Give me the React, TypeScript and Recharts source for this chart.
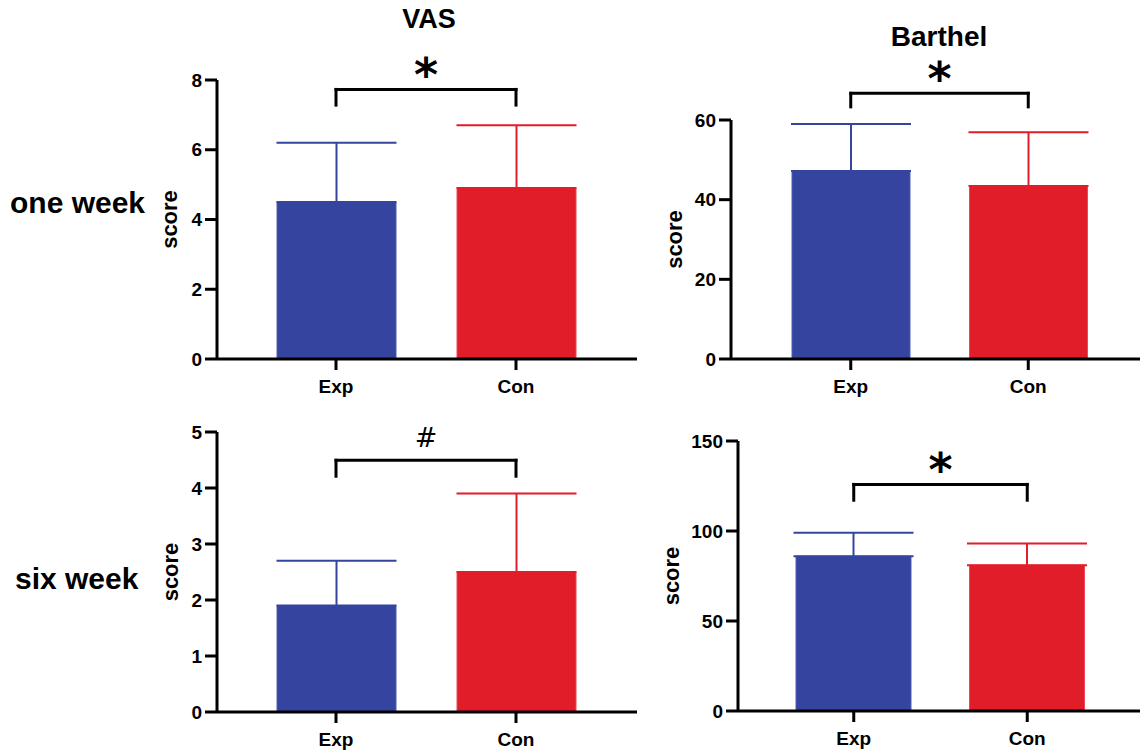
import React from 'react';
import { BarChart, Bar, XAxis, YAxis, Cell, ErrorBar, ReferenceLine } from 'recharts';

// ---------- data ----------
const categories = ['Exp', 'Con'];

const vasWeek1Mean = [4.5, 4.9];
const vasWeek1Sd = [1.7, 1.8];
const vasWeek1Ticks = [0, 2, 4, 6, 8];

const barthelWeek1Mean = [47.2, 43.4];
const barthelWeek1Sd = [11.8, 13.5];
const barthelWeek1Ticks = [0, 20, 40, 60];

const vasWeek6Mean = [1.9, 2.5];
const vasWeek6Sd = [0.8, 1.4];
const vasWeek6Ticks = [0, 1, 2, 3, 4, 5];

const barthelWeek6Mean = [86, 81];
const barthelWeek6Sd = [13, 12];
const barthelWeek6Ticks = [0, 50, 100, 150];

const columnTitles = ['VAS', 'Barthel'];
const rowTitles = ['one week', 'six week'];
const yAxisTitle = 'score';

// ---------- styles ----------
const barColors = ['#35449F', '#E11D2A'];
const barEdges = ['#4e5cb3', '#ea4b55'];
const FONT = "'Liberation Sans', Arial, sans-serif";
const axisStyle = { stroke: '#000', strokeWidth: 3 };
const tickStyle = { fill: '#000', fontSize: 19, fontWeight: 'bold', fontFamily: FONT };

function buildRows(means: number[], sds: number[]) {
  return categories.map((name, i) => {
    const row: any = { name, value: means[i] };
    row['err' + i] = [0, sds[i]];
    return row;
  });
}

function SigLabel(props: any) {
  const { viewBox, text, dy, fontSize, fontFamily, fontWeight } = props;
  if (!viewBox) return null;
  const cx = viewBox.x + viewBox.width / 2;
  return (
    <text x={cx} y={viewBox.y + dy} textAnchor="middle" fill="#000" fontSize={fontSize} fontFamily={fontFamily} fontWeight={fontWeight}>
      {text}
    </text>
  );
}

type PanelCfg = {
  left: number; top: number; width: number; height: number;
  mt: number; mr: number; mb: number; yw: number;
  padL: number; padR: number; barSize: number;
  max: number; ticks: number[];
  means: number[]; sds: number[];
  bracket: [number, number];
  sig: string; sigDy: number; sigSize: number; sigFont: string; sigWeight: string;
};

function Panel({ cfg }: { cfg: PanelCfg }) {
  const rows = buildRows(cfg.means, cfg.sds);
  const [top, leg] = cfg.bracket;
  const segProps = { stroke: '#000', strokeWidth: 3, ifOverflow: 'visible' as const, strokeLinecap: 'square' as const };
  return (
    <div style={{ position: 'absolute', left: cfg.left, top: cfg.top }}>
      <BarChart
        width={cfg.width}
        height={cfg.height}
        data={rows}
        margin={{ top: cfg.mt, right: cfg.mr, bottom: cfg.mb, left: 0 }}
      >
        <XAxis
          dataKey="name"
          type="category"
          height={40}
          interval={0}
          padding={{ left: cfg.padL, right: cfg.padR }}
          axisLine={axisStyle}
          tickLine={axisStyle}
          tickSize={11}
          tickMargin={10}
          tick={tickStyle}
        />
        <YAxis
          width={cfg.yw}
          type="number"
          domain={[0, cfg.max]}
          ticks={cfg.ticks}
          interval={0}
          allowDataOverflow
          axisLine={axisStyle}
          tickLine={axisStyle}
          tickSize={12}
          tickMargin={3}
          tick={tickStyle}
          label={{
            value: yAxisTitle,
            angle: -90,
            position: 'center',
            fill: '#000',
            fontSize: 22,
            fontWeight: 'bold',
            fontFamily: FONT,
          }}
        />
        <Bar dataKey="value" barSize={cfg.barSize} isAnimationActive={false}>
          {rows.map((r, i) => (
            <Cell key={r.name} fill={barColors[i]} stroke={barEdges[i]} strokeWidth={1} />
          ))}
          <ErrorBar dataKey="err0" direction="y" width={60} stroke={barColors[0]} strokeWidth={2} />
          <ErrorBar dataKey="err1" direction="y" width={60} stroke={barColors[1]} strokeWidth={2} />
        </Bar>
        <ReferenceLine
          {...segProps}
          segment={[{ x: categories[0], y: top }, { x: categories[1], y: top }]}
          label={
            <SigLabel text={cfg.sig} dy={cfg.sigDy} fontSize={cfg.sigSize} fontFamily={cfg.sigFont} fontWeight={cfg.sigWeight} />
          }
        />
        <ReferenceLine {...segProps} segment={[{ x: categories[0], y: top }, { x: categories[0], y: leg }]} />
        <ReferenceLine {...segProps} segment={[{ x: categories[1], y: top }, { x: categories[1], y: leg }]} />
      </BarChart>
    </div>
  );
}

const starCfg = { sig: '*', sigDy: 2, sigSize: 46, sigFont: "'DejaVu Sans', sans-serif", sigWeight: 'bold' };

const panels: PanelCfg[] = [
  {
    left: 121, top: 40, width: 530, height: 370, mt: 40, mr: 14, mb: 11, yw: 96,
    padL: 29, padR: 31, barSize: 119, max: 8, ticks: vasWeek1Ticks,
    means: vasWeek1Mean, sds: vasWeek1Sd, bracket: [7.73, 7.28], ...starCfg,
  },
  {
    left: 617, top: 40, width: 523, height: 370, mt: 80, mr: 0, mb: 11, yw: 114,
    padL: 31, padR: 23, barSize: 118, max: 60, ticks: barthelWeek1Ticks,
    means: barthelWeek1Mean, sds: barthelWeek1Sd, bracket: [66.7, 63.3], ...starCfg,
  },
  {
    left: 124, top: 400, width: 527, height: 352, mt: 32, mr: 14, mb: 0, yw: 93,
    padL: 29, padR: 31, barSize: 119, max: 5, ticks: vasWeek6Ticks,
    means: vasWeek6Mean, sds: vasWeek6Sd, bracket: [4.495, 4.21],
    sig: '#', sigDy: -13, sigSize: 27, sigFont: "'DejaVu Sans', sans-serif", sigWeight: 'normal',
  },
  {
    left: 605, top: 400, width: 535, height: 352, mt: 41, mr: 0, mb: 1, yw: 133,
    padL: 29, padR: 26, barSize: 115, max: 150, ticks: barthelWeek6Ticks,
    means: barthelWeek6Mean, sds: barthelWeek6Sd, bracket: [125.9, 117.1], ...starCfg,
  },
];

export default function App() {
  return (
    <div style={{ position: 'absolute', left: 0, top: 0, width: 1140, height: 752, background: '#fff', overflow: 'hidden' }}>
      {panels.map((p, i) => (
        <Panel key={i} cfg={p} />
      ))}
      <svg width={1140} height={752} style={{ position: 'absolute', left: 0, top: 0, pointerEvents: 'none' }}>
        <text x={429} y={28} textAnchor="middle" fontFamily={FONT} fontWeight="bold" fontSize={27} fill="#000">
          {columnTitles[0]}
        </text>
        <text x={939} y={46} textAnchor="middle" fontFamily={FONT} fontWeight="bold" fontSize={28} fill="#000">
          {columnTitles[1]}
        </text>
        <text x={10} y={213} fontFamily={FONT} fontWeight="bold" fontSize={30} fill="#000">
          {rowTitles[0]}
        </text>
        <text x={15} y={589} fontFamily={FONT} fontWeight="bold" fontSize={30} fill="#000">
          {rowTitles[1]}
        </text>
      </svg>
    </div>
  );
}
